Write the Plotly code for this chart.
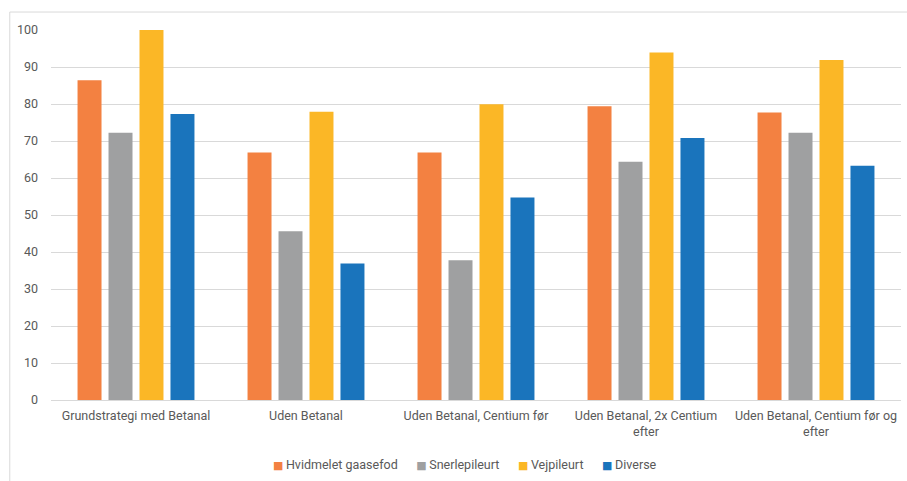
import plotly.graph_objects as go

categories = [
    "Grundstrategi med Betanal",
    "Uden Betanal",
    "Uden Betanal, Centium før",
    "Uden Betanal, 2x Centium<br>efter",
    "Uden Betanal, Centium før og<br>efter",
]
series_names = ["Hvidmelet gaasefod", "Snerlepileurt", "Vejpileurt", "Diverse"]
hvidmelet = [86.4, 66.9, 66.9, 79.4, 77.7]
snerle = [72.2, 45.6, 37.8, 64.4, 72.2]
vejpil = [100.0, 77.9, 79.9, 93.9, 91.9]
diverse = [77.3, 36.9, 54.7, 70.8, 63.3]
colors = ["#F38141", "#9FA0A1", "#FBB726", "#1A74BC"]
y_ticks = [0, 10, 20, 30, 40, 50, 60, 70, 80, 90, 100]

fig = go.Figure()
for name, vals, col in zip(series_names, [hvidmelet, snerle, vejpil, diverse], colors):
    fig.add_trace(go.Bar(x=categories, y=vals, name=name, marker=dict(color=col, line=dict(width=0))))

legend_text = "\u00a0\u00a0\u00a0\u00a0\u00a0\u00a0".join(
    f"<span style='color:{c}; font-family:DejaVu Sans; font-size:11px'>■</span>\u2009{n}"
    for n, c in zip(series_names, colors)
)

font = "Roboto, Arial, sans-serif"
fig.update_layout(
    width=907, height=481,
    margin=dict(l=51, r=6, t=30, b=81),
    paper_bgcolor="white", plot_bgcolor="white",
    barmode="group", bargap=0.271, bargroupgap=0.226,
    font=dict(family=font, size=12.5, color="#595959"),
    showlegend=False,
    xaxis=dict(showgrid=False, showline=False, ticks="", tickfont=dict(size=12.5), ticklabelstandoff=6),
    yaxis=dict(range=[0, 100], tickvals=y_ticks, showgrid=True, gridcolor="#D9D9D9", gridwidth=1,
               zeroline=True, zerolinecolor="#D9D9D9", zerolinewidth=1, ticks="",
               ticklabelstandoff=12, tickfont=dict(size=12.5)),
    annotations=[
        dict(text=legend_text, xref="paper", yref="paper", x=0.487, y=-0.1755,
             xanchor="center", yanchor="middle", showarrow=False,
             font=dict(size=12.5, color="#595959")),
    ],
    shapes=[
        dict(type="line", xref="paper", yref="paper", x0=-0.0485, x1=1.01, y0=1.0486, y1=1.0486,
             line=dict(color="#D9D9D9", width=1)),
        dict(type="line", xref="paper", yref="paper", x0=-0.0485, x1=-0.0485, y0=1.0486, y1=-0.3,
             line=dict(color="#D9D9D9", width=1)),
    ],
)
fig.write_html("out.html")
